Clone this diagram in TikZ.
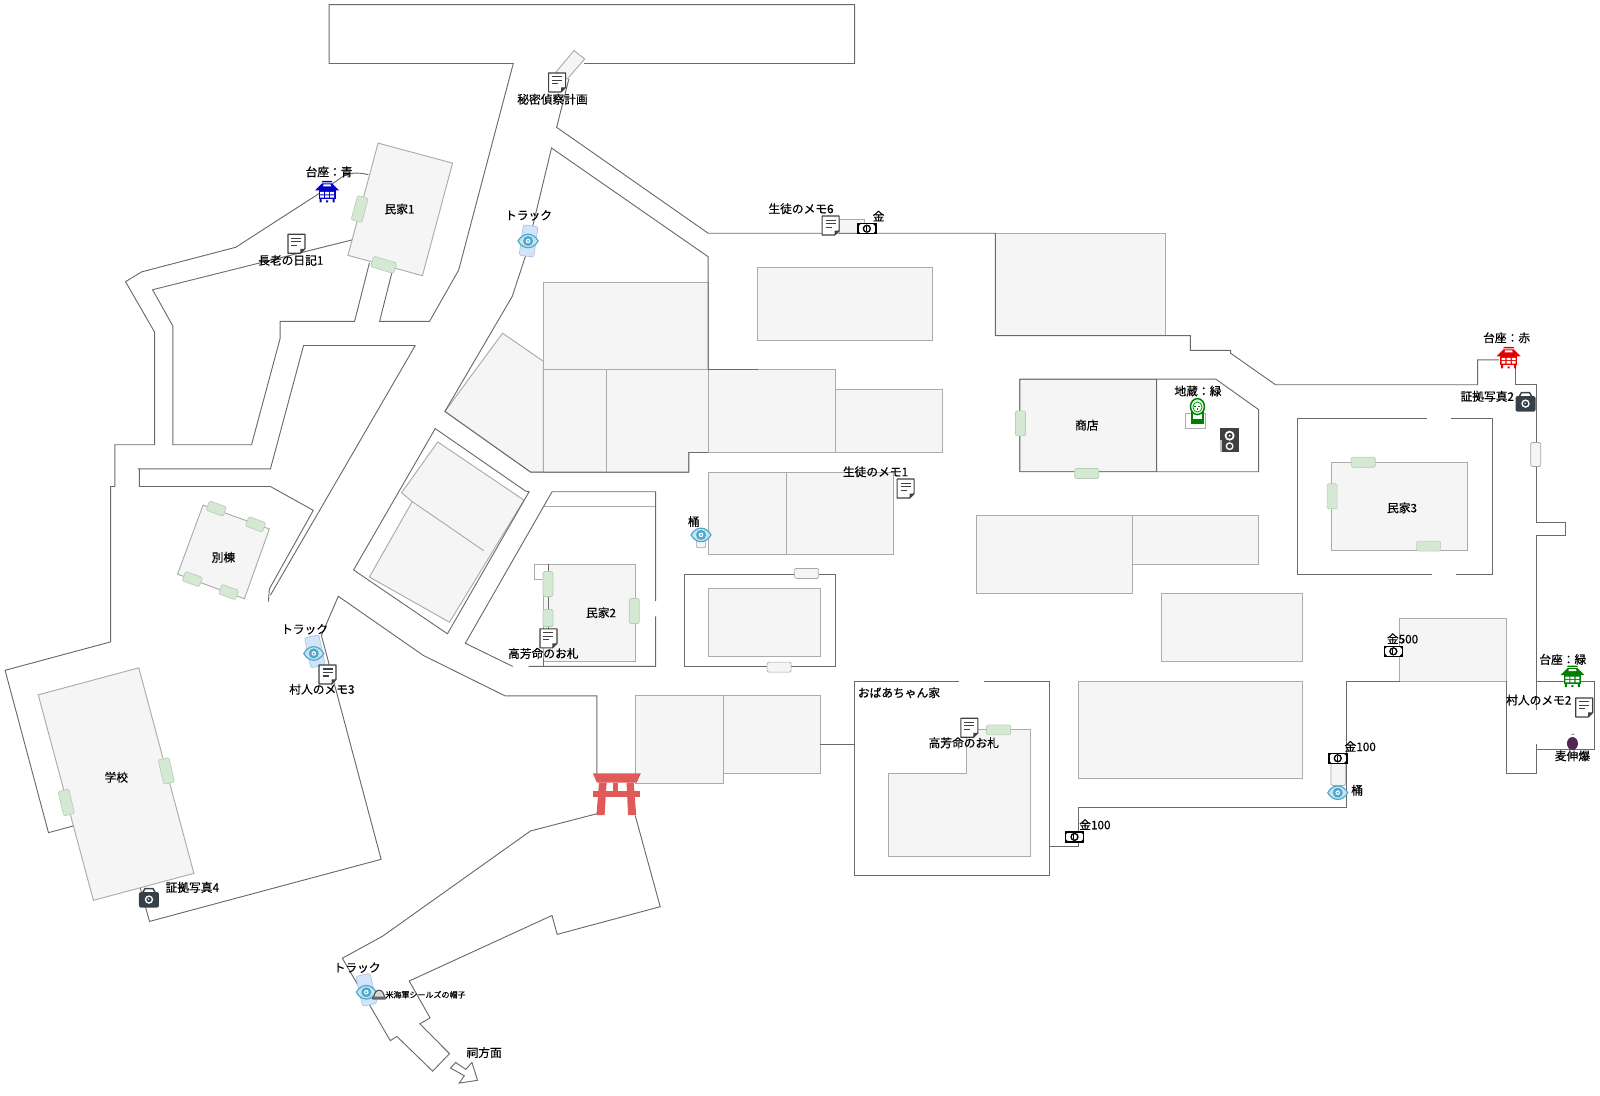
\documentclass[tikz,border=0pt]{standalone}
\usepackage{fontspec}
\setmainfont{Noto Sans CJK JP}[FakeBold=0.5]
\definecolor{wallc}{HTML}{6A6A6A}
\definecolor{bldc}{HTML}{ABABAB}
\definecolor{bldf}{HTML}{F5F5F5}
\definecolor{toriic}{HTML}{E05A5A}
\definecolor{eyec}{HTML}{4FA8CC}
\definecolor{eyel}{HTML}{C5E4F0}
\definecolor{darkic}{HTML}{36404A}
\definecolor{doorfill}{HTML}{D5E8D4}
\definecolor{doorline}{HTML}{B7CFB4}
\definecolor{trackfill}{HTML}{D2E4FA}
\definecolor{trackline}{HTML}{A9C4E4}
\tikzset{
  wall/.style={draw=wallc,line width=.7pt,line join=miter},
  bld/.style={draw=bldc,fill=bldf,line width=.7pt},
  doorg/.style={shape=rectangle,rounded corners=1pt,draw=doorline,fill=doorfill,inner sep=0pt,line width=.5pt},
  doorw/.style={shape=rectangle,rounded corners=1pt,draw=gray!70,fill=bldf,inner sep=0pt,line width=.5pt},
  doorb/.style={shape=rectangle,rounded corners=1.5pt,draw=trackline,fill=trackfill,inner sep=0pt,line width=.5pt},
  lab/.style={inner sep=0pt,font=\fontsize{8.8pt}{10pt}\selectfont,text=black},
  labs/.style={inner sep=0pt,font=\fontsize{6pt}{7pt}\selectfont,text=black},
  icon/.style={x=.75pt,y=-.75pt}
}
\newcommand{\dg}[6]{\node[doorg,rotate=#4,minimum width=#5*.75pt,minimum height=#6*.75pt] (#1) at #2#3 {};}
\newcommand{\docicon}[1]{\begin{scope}[shift={#1},icon]
 \draw[fill=white,draw=black!75,line width=.9pt,line join=round] (-8.5,-9.5)--(8.5,-9.5)--(8.5,5)--(4,9.5)--(-8.5,9.5)--cycle;
 \fill[black!75] (8.5,5)--(4,5)--(4,9.5)--cycle;
 \draw[black!75,line width=.8pt] (-5,-5.5)--(5,-5.5) (-5,-2)--(5,-2) (-5,1.5)--(1,1.5);
 \end{scope}}
\newcommand{\billicon}[1]{\begin{scope}[shift={#1},icon]
 \draw[fill=white,draw=black,line width=1.2pt] (-9,-5) rectangle (9,5);
 \fill[black] (0,0) circle (4.2);
 \fill[white] (0,0) circle (2.6);
 \draw[black,line width=.7pt] (-.8,-2.4) -- (-.8,2.4);
 \fill[black] (-9,-5)--(-6,-5)--(-9,-2)--cycle (9,5)--(6,5)--(9,2)--cycle (-9,5)--(-6,5)--(-9,2)--cycle (9,-5)--(6,-5)--(9,-2)--cycle;
 \end{scope}}
\newcommand{\eyeicon}[1]{\begin{scope}[shift={#1},icon]
 \draw[fill=eyel,draw=eyec,line width=.9pt,line join=miter] (-10,0) .. controls (-5,-9) and (5,-9) .. (10,0) .. controls (5,9) and (-5,9) .. cycle;
 \fill[eyec] (0,0) circle (5);
 \fill[white] (0,0) circle (2.3);
 \fill[eyec] (0,0) circle (1.1);
 \end{scope}}
\newcommand{\camicon}[1]{\begin{scope}[shift={#1},icon]
 \fill[darkic,rounded corners=1.5pt] (-10,-5.5) rectangle (10,10);
 \draw[darkic,line width=1.1pt] (-6,-5.5)--(-4,-9)--(4,-9)--(6,-5.5);
 \fill[white] (0,2) circle (4.2);
 \fill[darkic] (0,2) circle (2.6);
 \fill[white] (-.4,1.6) circle (.8);
 \end{scope}}
\newcommand{\pagicon}[2]{\begin{scope}[shift={#1},icon,#2]
 \fill (-4.5,-11)--(4.5,-11)--(5.5,-9.5)--(-5.5,-9.5)--cycle;
 \fill (-5,-8.5)--(5,-8.5)--(12,-1.5)--(-12,-1.5)--cycle;
 \fill[white] (-3.5,-7.5)--(3.5,-7.5)--(4,-5.5)--(-4,-5.5)--cycle;
 \fill (-8.5,-1.5) rectangle (8.5,7);
 \fill[white] (-7,0) rectangle (-3.2,2.4) (-2,0) rectangle (2,2.4) (3.2,0) rectangle (7,2.4)
   (-7,3.4) rectangle (-3.2,5.8) (-2,3.4) rectangle (2,5.8) (3.2,3.4) rectangle (7,5.8);
 \fill (-7.5,7) rectangle (-5.5,10.5) (5.5,7) rectangle (7.5,10.5) (-1,8.5) rectangle (1,10.5);
 \end{scope}}
\begin{document}
\begin{tikzpicture}[x=0.382653pt,y=-0.263065pt]
\useasboundingbox (0,0) rectangle (3136,3124.7);
% buildings
\draw[bld] (1065,805) rectangle (1388,1053);
\draw[bld] (985,950)--(1065,1030)--(1065,1346)--(1040,1346)--(872,1173)--cycle;
\draw[bld] (1065,1053) rectangle (1189,1346);
\draw[bld] (1189,1053)--(1388,1053)--(1388,1290)--(1350,1290)--(1350,1346)--(1189,1346)--cycle;
\draw[bld] (1388,1053) rectangle (1638,1290);
\draw[bld] (1638,1110) rectangle (1847,1290);
\draw[bld] (1389,1347) rectangle (1541,1581);
\draw[bld] (1541,1347) rectangle (1751,1581);
\draw[bld] (1485,762) rectangle (1828,970);
\draw[bld] (1951,665) rectangle (2285,957);
\draw[bld] (1646,627) rectangle (1695,665);
\draw[bld] (1999,1081) rectangle (2267,1345);
\draw[bld] (2610,1318) rectangle (2877,1569);
\draw[bld] (1914,1470) rectangle (2219,1692);
\draw[bld] (2219,1470) rectangle (2467,1609);
\draw[bld] (2277,1692) rectangle (2553,1887);
\draw[bld] (2114,1942) rectangle (2553,2219);
\draw[bld] (2743,1762) rectangle (2953,1942);
\draw[bld] (1895,2080)--(2019,2080)--(2019,2442)--(1741,2442)--(1741,2205)--(1895,2205)--cycle;
\draw[bld] (1246,1984) rectangle (1418,2234);
\draw[bld] (1418,1984) rectangle (1608,2205);
\draw[bld] (1389,1679) rectangle (1608,1873);
\draw[bld] (1065,1609) rectangle (1246,1887);
\draw[bld,fill=white] (1047,1609) rectangle (1075,1652);
\draw[bld] (741,408)--(887,465)--(828,786)--(682,728)--cycle;
\draw[bld] (398,1440)--(528,1508)--(479,1707)--(348,1637)--cycle;
\draw[bld] (272,1904)--(380,2490)--(183,2567)--(75,1981)--cycle;
\draw[bld] (858,1260)--(1027,1426)--(881,1774)--(724,1645)--(808,1430)--(787,1405)--cycle;
\draw[bld] (808,1430)--(948,1570);
\draw[bld] (1125,144)--(1146,168)--(1112,225)--(1090,205)--cycle;
\draw[bldc,line width=.7pt] (1065,1443)--(1285,1443);
% walls
\draw[wall] (1145,181)--(1675,181)--(1675,13)--(645,13)--(645,181)--(1006,181)--(899,770)--(842,916)--(744,916)--(768,778);
\draw[wall] (1115,225)--(1091,363)--(1388,665)--(1951,665)--(1951,957)--(2333,957)--(2333,999)--(2412,999)--(2412,1007)--(2500,1097)--(2896,1097)--(2896,1026)--(2938,1026);
\draw[wall] (2971,1040)--(2971,1097)--(3011,1097)--(3011,1490)--(3068,1490)--(3068,1526)--(3011,1526)--(3011,2025);
\draw[wall] (3011,1942)--(3125,1942)--(3125,2137)--(3011,2137)--(3011,2122);
\draw[wall] (3011,2137)--(3011,2205)--(2953,2205)--(2953,1942);
\draw[wall] (2743,1942)--(2639,1942)--(2639,2302)--(2114,2302)--(2114,2413)--(2057,2413);
\draw[wall] (1880,1942)--(1675,1942)--(1675,2497)--(2057,2497)--(2057,1942)--(1928,1942);
\draw[wall] (1608,2122)--(1675,2122);
\draw[wall] (1388,1053)--(1388,732)--(1081,422)--(1030,730)--(1004,845)--(872,1173)--(1040,1346)--(1350,1346)--(1350,1290)--(1388,1290);
\draw[wall] (1388,1053)--(1485,1053);
\draw[wall] (1999,1081)--(2383,1081)--(2467,1168)--(2467,1345)--(1999,1345)--cycle (2267,1081)--(2267,1345);
\draw[wall,draw=bldc] (2324,1178) rectangle (2363,1221);
\draw[wall] (2796,1193)--(2543,1193)--(2543,1637)--(2806,1637) (2844,1193)--(2925,1193)--(2925,1637)--(2854,1637);
\draw[wall] (1342,1639) rectangle (1638,1900);
\draw[wall] (1082,1402)--(912,1834)--(1005,1900) (1082,1402)--(1285,1402)--(1285,1714) (1285,1757)--(1285,1900)--(1036,1900);
\draw[wall] (1065,1877)--(1065,1900);
\draw[wall] (1075,1609)--(1075,1800);
\draw[wall] (853,1222)--(1030,1400)--(1037,1402)--(877,1807)--(693,1625)--cycle;
\draw[wall] (275,2532)--(293,2627)--(747,2450)--(630,1812)--(663,1700)--(830,1869)--(990,1984)--(1170,1984)--(1170,2207);
\draw[wall] (1170,2320)--(1040,2369)--(1037,2372)--(750,2669)--(671,2732)--(765,2967)--(778,2955)--(848,3054)--(881,3004)--(823,2919)--(843,2902)--(802,2797)--(1082,2610)--(1092,2664)--(1294,2585)--(1245,2325);
\draw[wall] (883,3045)--(893,3029)--(913,3049)--(925,3029)--(936,3080)--(900,3088)--(910,3067)--cycle;
\draw[wall] (722,498) .. controls (700,490) and (680,492) .. (665,510)--(622,555)--(462,705)--(278,775)--(246,803)--(303,947)--(303,1268)--(225,1268)--(225,1387)--(217,1387)--(217,1830)--(10,1911)--(95,2374)--(143,2355);
\draw[wall] (690,684)--(299,826)--(339,930)--(339,1268)--(493,1268)--(549,965)--(549,916)--(695,916)--(724,750);
\draw[wall] (814,985)--(595,985)--(530,1337)--(270,1337)--(273,1337)--(273,1387)--(530,1387)--(614,1455)--(528,1679)--(526,1715);
\draw[wall] (814,985)--(530,1697);
% doors
\dg{d1}{(705,}{596)}{-15}{11}{25}
\dg{d2}{(752,}{755)}{-17}{24}{11}
\dg{d3}{(424,}{1450)}{-20}{18}{10}
\dg{d4}{(501,}{1495)}{-20}{18}{10}
\dg{d5}{(377,}{1651)}{-20}{18}{10}
\dg{d6}{(448,}{1688)}{-20}{18}{10}
\dg{d7}{(326,}{2198)}{13}{11}{25}
\dg{d8}{(130,}{2288)}{13}{11}{25}
\dg{d9}{(1074,}{1665)}{0}{10}{25}
\dg{d10}{(1074,}{1762)}{0}{10}{17}
\dg{d11}{(1243,}{1742)}{0}{10}{25}
\dg{d12}{(2000,}{1207)}{0}{10}{25}
\dg{d13}{(2130,}{1350)}{0}{24}{10}
\dg{d14}{(2672,}{1318)}{0}{24}{10}
\dg{d15}{(2611,}{1415)}{0}{10}{25}
\dg{d16}{(2800,}{1557)}{0}{24}{10}
\dg{d17}{(1957,}{2081)}{0}{24}{10}
\node[doorw,minimum width=7.5pt,minimum height=18pt] (g1) at (3010,1296) {};
\node[doorw,minimum width=18pt,minimum height=7.5pt] (g2) at (1581,1635) {};
\node[doorw,minimum width=18pt,minimum height=7.5pt] (g3) at (1527,1902) {};
\node[doorw,minimum width=11pt,minimum height=17pt] (g4) at (2623,2207) {};
\node[doorw,minimum width=7pt,minimum height=14pt] (g5) at (1374,1535) {};
\node[doorb,rotate=-8,minimum width=11pt,minimum height=23pt] (t1) at (1036,687) {};
\node[doorb,rotate=12,minimum width=11pt,minimum height=23pt] (t2) at (617,1857) {};
\node[doorb,rotate=13,minimum width=11pt,minimum height=23pt] (t3) at (718,2822) {};
% torii
\fill[toriic] (1162,2205)--(1256,2205)--(1248,2231)--(1170,2231)--cycle;
\fill[toriic] (1162,2256) rectangle (1254,2273);
\fill[toriic] (1174,2231)--(1189,2231)--(1185,2324)--(1169,2324)--cycle;
\fill[toriic] (1228,2231)--(1242,2231)--(1247,2324)--(1231,2324)--cycle;
\fill[toriic] (1202,2231) rectangle (1212,2256);
% icons
\docicon{(581,695)}\docicon{(1092,235)}\docicon{(1628,643)}\docicon{(1775,1393)}
\docicon{(642,1923)}\docicon{(1075,1820)}\docicon{(1900,2075)}\docicon{(3105,2017)}
\billicon{(1699,652)}\billicon{(2731,1857)}\billicon{(2622,2162)}\billicon{(2106,2386)}
\eyeicon{(1035,687)}\eyeicon{(1374,1525)}\eyeicon{(615,1863)}\eyeicon{(718,2829)}\eyeicon{(2622,2260)}
\camicon{(2990,1145)}\camicon{(292,2559)}
\pagicon{(641,547)}{blue!80!black}
\pagicon{(2957,1020)}{red!90!black}
\pagicon{(3082,1929)}{green!50!black}
% jizo
\begin{scope}[shift={(2347,1172)},icon,draw=green!50!black]
 \draw[fill=white,line width=1pt] (-5.5,0) rectangle (5.5,12);
 \fill[green!50!black] (-5.5,8) rectangle (5.5,12);
 \draw[fill=green!15,line width=1.1pt] (0,-4.5) ellipse (7 and 8);
 \draw[fill=white,line width=.5pt] (0,-4) ellipse (4.5 and 5);
 \draw[green!50!black,line width=.5pt] (-3,-5)--(-1,-5) (1,-5)--(3,-5) (0,-3)--(0,-1);
\end{scope}
% speaker
\begin{scope}[shift={(2410,1255)},icon]
 \fill[black!75] (-9.5,-12) rectangle (9.5,12);
 \fill[black!25] (-9.5,0) rectangle (-7.5,12);
 \fill[white] (0,-4.5) circle (5);
 \fill[black!75] (0,-4.5) circle (3);
 \fill[white] (0,-4.5) circle (1);
 \fill[white] (0,6) circle (4);
 \fill[black!75] (0,6) circle (2.4);
\end{scope}
% bomb
\begin{scope}[shift={(3082,2117)},icon]
 \fill[violet!40!black!85] (0,1) ellipse (5.5 and 6.5);
 \draw[black!50,line width=.6pt] (-1,-8)--(2,-8.5);
\end{scope}
% hat
\begin{scope}[shift={(743,2836)},icon]
 \draw[black!70,fill=black!15,line width=.8pt] (-5.5,3) .. controls (-4.5,-7) and (4.5,-7) .. (5.5,3);
 \fill[black!60,rounded corners=1pt] (-7.5,2) rectangle (7.5,5);
\end{scope}
% labels
\node[lab] (l1) at (645,490) {台座：青};
\node[lab] (l2) at (783,596) {民家1};
\node[lab] (l3) at (570,742) {長老の日記1};
\node[lab] (l4) at (1083,283) {秘密偵察計画};
\node[lab] (l5) at (1036,614) {トラック};
\node[lab] (l6) at (1570,595) {生徒のメモ6};
\node[lab] (l7) at (1722,616) {金};
\node[lab] (l8) at (1360,1487) {桶};
\node[lab] (l9) at (2953,963) {台座：赤};
\node[lab] (l10) at (2915,1130) {証拠写真2};
\node[lab] (l11) at (2348,1115) {地蔵：緑};
\node[lab] (l12) at (2130,1212) {商店};
\node[lab] (l13) at (1716,1345) {生徒のメモ1};
\node[lab] (l14) at (2748,1448) {民家3};
\node[lab] (l15) at (438,1589) {別棟};
\node[lab] (l16) at (597,1794) {トラック};
\node[lab] (l17) at (631,1965) {村人のメモ3};
\node[lab] (l18) at (1178,1747) {民家2};
\node[lab] (l19) at (1065,1863) {高芳命のお札};
\node[lab] (l20) at (228,2216) {学校};
\node[lab] (l21) at (377,2530) {証拠写真4};
\node[lab] (l22) at (700,2759) {トラック};
\node[labs] (l23) at (834,2836) {米海軍シールズの帽子};
\node[lab] (l24) at (949,3001) {祠方面};
\node[lab] (l25) at (2749,1821) {金500};
\node[lab] (l26) at (3063,1880) {台座：緑};
\node[lab] (l27) at (3016,1996) {村人のメモ2};
\node[lab] (l28) at (1762,1975) {おばあちゃん家};
\node[lab] (l29) at (1889,2118) {高芳命のお札};
\node[lab] (l30) at (2666,2128) {金100};
\node[lab] (l31) at (2660,2253) {桶};
\node[lab] (l32) at (2146,2351) {金100};
\node[lab] (l33) at (3082,2155) {麦伸爆};
\end{tikzpicture}
\end{document}
